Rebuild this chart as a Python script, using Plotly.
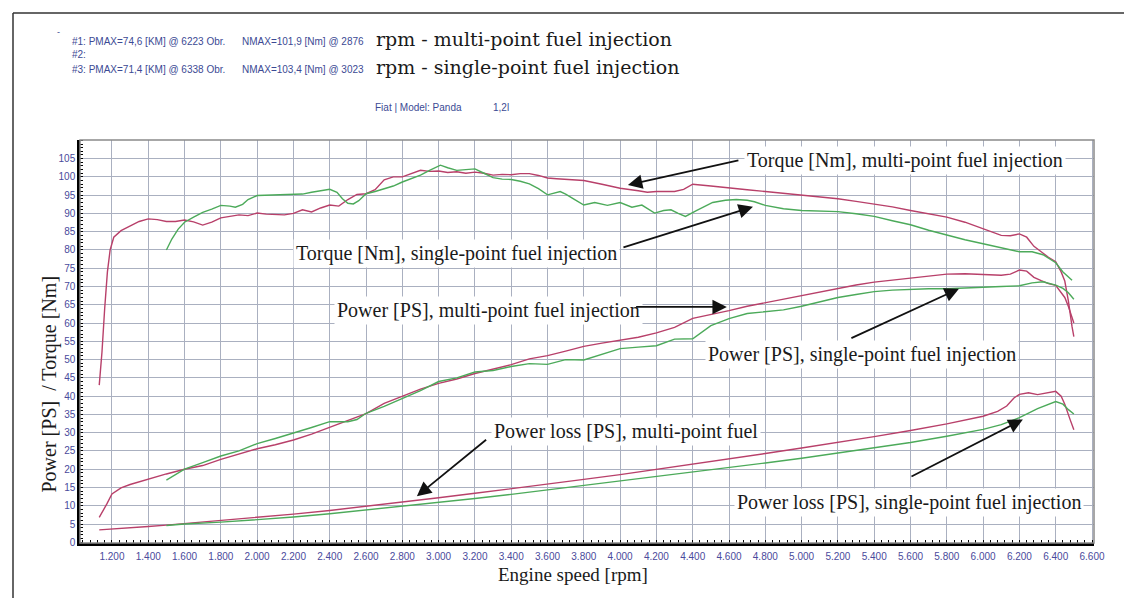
import plotly.graph_objects as go

# ---------------- data ----------------
tm_rpm = [1130, 1145, 1160, 1175, 1190, 1210, 1250, 1300, 1350, 1400, 1450, 1500, 1550, 1600, 1650, 1700, 1750, 1800, 1850, 1900, 1950, 2000, 2050, 2100, 2150, 2200, 2250, 2300, 2350, 2400, 2450, 2500, 2550, 2600, 2650, 2700, 2750, 2800, 2850, 2900, 2950, 3000, 3050, 3100, 3150, 3200, 3250, 3300, 3350, 3400, 3450, 3500, 3550, 3600, 3650, 3700, 3800, 3900, 3950, 4000, 4100, 4150, 4200, 4250, 4300, 4350, 4400, 4500, 4600, 4700, 4800, 4900, 5000, 5100, 5200, 5300, 5400, 5500, 5600, 5700, 5800, 5900, 6000, 6050, 6100, 6150, 6200, 6240, 6280, 6320, 6360, 6400, 6430, 6450, 6470, 6490, 6500]
tm_val = [43, 52, 64, 74, 80, 83.5, 85.3, 86.5, 87.8, 88.5, 88.3, 87.8, 87.8, 88.2, 87.7, 86.8, 87.6, 88.8, 89.2, 89.6, 89.4, 90.1, 89.8, 89.8, 89.6, 90.0, 91.0, 90.4, 91.5, 92.3, 92.0, 93.8, 95.2, 95.4, 96.5, 99.2, 100.0, 100.0, 101.0, 101.8, 101.5, 101.6, 101.2, 101.4, 101.0, 101.3, 101.0, 100.5, 100.7, 100.6, 100.9, 100.9, 100.4, 99.7, 99.5, 99.3, 99.0, 98.0, 97.4, 96.9, 96.2, 95.8, 96.0, 96.0, 96.0, 96.6, 98.0, 97.5, 96.9, 96.5, 96.0, 95.5, 94.9, 94.5, 94.0, 93.3, 92.6, 91.8, 90.8, 89.9, 89.0, 87.6, 85.8, 84.8, 84.0, 83.9, 84.4, 83.5, 81.0, 79.5, 78.0, 76.8, 74.0, 71.5, 66.0, 59.0, 56.3]

ts_rpm = [1500, 1530, 1565, 1600, 1650, 1700, 1750, 1800, 1850, 1880, 1920, 1950, 2000, 2100, 2200, 2250, 2300, 2350, 2400, 2440, 2470, 2500, 2530, 2560, 2600, 2650, 2710, 2750, 2800, 2850, 2900, 2950, 3010, 3050, 3100, 3150, 3200, 3250, 3300, 3350, 3400, 3450, 3500, 3550, 3600, 3670, 3700, 3750, 3800, 3860, 3930, 4000, 4065, 4120, 4190, 4240, 4280, 4320, 4360, 4420, 4470, 4510, 4580, 4640, 4700, 4740, 4800, 4900, 5000, 5100, 5200, 5300, 5400, 5500, 5600, 5700, 5800, 5900, 6000, 6100, 6200, 6270, 6330, 6400, 6440, 6490]
ts_val = [80.0, 83.0, 85.7, 87.6, 89.0, 90.3, 91.2, 92.2, 92.0, 91.7, 92.5, 93.8, 94.9, 95.0, 95.1, 95.3, 95.8, 96.3, 96.6, 95.8, 94.0, 92.8, 92.6, 93.5, 95.4, 96.0, 96.9, 97.5, 98.6, 99.5, 100.5, 101.8, 103.2, 102.5, 101.8, 102.0, 102.2, 101.0, 99.8, 99.4, 99.3, 98.8, 98.1, 96.8, 95.1, 96.0, 95.3, 93.8, 92.3, 93.0, 92.2, 93.0, 91.7, 92.3, 90.1, 90.8, 91.0, 90.0, 89.2, 90.8, 92.0, 93.0, 93.6, 93.8, 93.6, 93.2, 92.2, 91.3, 90.8, 90.6, 90.5, 89.9, 89.2, 88.0, 86.9, 85.4, 84.0, 82.8, 81.7, 80.6, 79.5, 79.5, 78.7, 76.5, 74.0, 71.7]

pm_rpm = [1130, 1150, 1172, 1200, 1250, 1300, 1400, 1500, 1600, 1700, 1800, 1900, 2000, 2100, 2200, 2300, 2400, 2500, 2600, 2700, 2800, 2900, 3000, 3100, 3200, 3300, 3400, 3500, 3600, 3700, 3800, 3900, 4000, 4100, 4200, 4300, 4400, 4500, 4600, 4700, 4800, 4900, 5000, 5100, 5200, 5300, 5400, 5500, 5600, 5700, 5800, 5900, 6000, 6100, 6150, 6200, 6240, 6280, 6320, 6360, 6400, 6430, 6450, 6470, 6490, 6500]
pm_val = [6.8, 8.5, 10.5, 13.2, 14.9, 15.8, 17.3, 18.7, 20.0, 21.0, 22.7, 24.2, 25.6, 26.7, 28.0, 29.6, 31.4, 33.2, 35.2, 38.0, 40.0, 41.9, 43.5, 44.7, 46.2, 47.3, 48.6, 50.2, 51.1, 52.3, 53.6, 54.5, 55.2, 56.1, 57.3, 58.8, 61.3, 62.3, 63.4, 64.6, 65.6, 66.6, 67.6, 68.6, 69.5, 70.4, 71.2, 71.8, 72.4, 73.0, 73.4, 73.5, 73.2, 73.1, 73.4, 74.5, 74.2, 72.5, 71.6, 70.8, 70.3, 68.5, 67.0, 64.5, 61.5, 60.0]

ps_rpm = [1500, 1550, 1600, 1700, 1800, 1900, 2000, 2100, 2200, 2300, 2400, 2500, 2550, 2600, 2700, 2800, 2900, 3000, 3100, 3200, 3300, 3400, 3500, 3600, 3700, 3800, 3900, 4000, 4100, 4200, 4300, 4400, 4500, 4600, 4700, 4800, 4900, 5000, 5100, 5200, 5300, 5400, 5500, 5600, 5700, 5800, 5900, 6000, 6100, 6200, 6270, 6330, 6400, 6440, 6470, 6500]
ps_val = [17.0, 18.5, 20.0, 21.8, 23.6, 25.0, 27.0, 28.4, 29.8, 31.4, 33.0, 33.0, 33.6, 35.3, 37.2, 39.3, 41.5, 44.0, 45.0, 46.6, 47.0, 48.1, 48.9, 48.7, 50.0, 49.9, 51.4, 53.0, 53.4, 53.8, 55.6, 55.7, 59.3, 61.2, 62.6, 63.0, 63.6, 64.6, 65.9, 67.0, 67.8, 68.6, 69.0, 69.3, 69.4, 69.4, 69.5, 69.8, 70.0, 70.2, 71.0, 71.3, 70.4, 69.5, 68.3, 66.5]

lm_rpm = [1130, 1200, 1300, 1400, 1500, 1600, 1800, 2000, 2200, 2400, 2600, 2800, 3000, 3200, 3400, 3600, 3800, 4000, 4200, 4400, 4600, 4800, 5000, 5200, 5400, 5600, 5800, 6000, 6080, 6130, 6170, 6200, 6250, 6300, 6350, 6400, 6430, 6450, 6480, 6500]
lm_val = [3.4, 3.6, 3.9, 4.3, 4.7, 5.1, 5.9, 6.8, 7.7, 8.7, 9.8, 11.0, 12.2, 13.4, 14.6, 15.9, 17.2, 18.5, 19.9, 21.3, 22.8, 24.3, 25.8, 27.3, 28.9, 30.6, 32.4, 34.5, 35.8, 37.3, 39.5, 40.5, 40.9, 40.4, 40.9, 41.3, 40.0, 37.8, 33.5, 30.8]

ls_rpm = [1500, 1600, 1800, 2000, 2200, 2400, 2600, 2800, 3000, 3200, 3400, 3600, 3800, 4000, 4200, 4400, 4600, 4800, 5000, 5200, 5400, 5600, 5800, 6000, 6100, 6200, 6300, 6400, 6440, 6470, 6500]
ls_val = [4.6, 5.0, 5.5, 6.1, 6.9, 7.8, 8.8, 9.8, 10.9, 12.0, 13.1, 14.3, 15.5, 16.7, 17.9, 19.1, 20.4, 21.7, 23.0, 24.4, 25.8, 27.3, 29.0, 30.9, 32.2, 34.1, 36.6, 38.5, 37.8, 36.3, 35.1]

x_ticks = list(range(1200, 6601, 200))
x_labels = ["{:,}".format(v).replace(",", ".") for v in x_ticks]
y_ticks = list(range(0, 106, 5))

# callouts: text, text anchor (rpm, value), arrow tail (rpm, value), arrow head (rpm, value)
callout_text = ["Torque [Nm], multi-point fuel injection",
                "Torque [Nm], single-point fuel injection",
                "Power [PS], multi-point fuel injection",
                "Power [PS], single-point fuel injection",
                "Power loss [PS], multi-point fuel",
                "Power loss [PS], single-point fuel injection"]
callout_pos = [(4680, 104.6), (2200, 79.0), (2425, 63.3), (4470, 51.4), (3290, 30.4), (4630, 10.8)]
arrow_tail = [(4660, 104.6), (4010, 80.6), (4080, 64.4), (5266, 55.7), (3270, 28.4), (5597, 17.8)]
arrow_head = [(4043, 97.8), (4732, 91.8), (4588, 64.4), (5867, 69.4), (2880, 12.6), (6219, 33.6)]

# ---------------- layout geometry ----------------
W, H = 1132, 598
PL, PR, PT, PB = 72, 1086, 132, 535


def px(x):
    return (x - PL) / (PR - PL)


def py(y):
    return (PB - y) / (PB - PT)


RED = "#b8406a"
GREEN = "#4caa5a"

fig = go.Figure()
series = [
    (tm_rpm, tm_val, RED), (ts_rpm, ts_val, GREEN),
    (pm_rpm, pm_val, RED), (ps_rpm, ps_val, GREEN),
    (lm_rpm, lm_val, RED), (ls_rpm, ls_val, GREEN),
]
for xs, ys, c in series:
    fig.add_trace(go.Scatter(x=xs, y=ys, mode="lines",
                             line=dict(color=c, width=1.4),
                             showlegend=False, hoverinfo="skip"))

TICKFONT = dict(family="Liberation Sans, Arial", size=10, color="#4a4a9c")
GRID = "#aab0c0"

fig.update_layout(
    width=W, height=H,
    margin=dict(l=PL, r=W - PR, t=PT, b=H - PB),
    paper_bgcolor="white", plot_bgcolor="white",
    xaxis=dict(range=[1024, 6611], tickvals=x_ticks, ticktext=x_labels,
               tickfont=TICKFONT, showgrid=True, gridcolor=GRID, gridwidth=1.4,
               showline=True, linecolor="black", linewidth=2.5, zeroline=False,
               ticks="", ticklen=0, ticklabelstandoff=2,
               minor=dict(dtick=40, ticks="inside", ticklen=3, tickcolor="black",
                          tickwidth=1, showgrid=False)),
    yaxis=dict(range=[-0.2, 110.1], tickvals=y_ticks,
               tickfont=TICKFONT, showgrid=True, gridcolor=GRID, gridwidth=1.4,
               showline=True, linecolor="black", linewidth=2.5, zeroline=False,
               ticks="", ticklen=0,
               minor=dict(dtick=1, ticks="inside", ticklen=3, tickcolor="black",
                          tickwidth=1, showgrid=False)),
    font=dict(family="Liberation Serif, Times New Roman", color="#1a1a1a"),
)

# plot border (top / right gray)
fig.add_shape(type="rect", xref="paper", yref="paper", x0=0, x1=1, y0=0, y1=1,
              line=dict(color="#8a8a8a", width=1.5), layer="above")
# outer frame
for x0, y0, x1, y1 in [(5, 5, 5, 598), (5, 5, 1127, 5), (1127, 5, 1127, 598)]:
    fig.add_shape(type="line", xref="paper", yref="paper",
                  x0=px(x0), x1=px(x1), y0=py(y0), y1=py(y1),
                  line=dict(color="#333333", width=1.5))

SERIF = "Liberation Serif, Times New Roman"
WIDESERIF = "DejaVu Serif, Liberation Serif"
SANS = "Liberation Sans, Arial"
BLUE = "#3c4a94"

# callouts
for t, (tx, ty) in zip(callout_text, callout_pos):
    fig.add_annotation(x=tx, y=ty, xref="x", yref="y", text=t, showarrow=False,
                       xanchor="left", yanchor="middle", bgcolor="white",
                       borderpad=2, font=dict(family=SERIF, size=20, color="#1a1a1a"))
for (ax_, ay_), (hx, hy) in zip(arrow_tail, arrow_head):
    fig.add_annotation(x=hx, y=hy, ax=ax_, ay=ay_, xref="x", yref="y",
                       axref="x", ayref="y", text="", showarrow=True,
                       arrowhead=2, arrowsize=1.6, arrowwidth=1.8,
                       arrowcolor="#111111", standoff=0, startstandoff=0)

# header texts
header = [
    ("-", 47, 24, SANS, 9, BLUE),
    ("#1: PMAX=74,6 [KM] @ 6223 Obr.", 62, 33, SANS, 10, BLUE),
    ("NMAX=101,9 [Nm] @ 2876", 232, 33, SANS, 10, BLUE),
    ("#2:", 62, 46, SANS, 10, BLUE),
    ("#3: PMAX=71,4 [KM] @ 6338 Obr.", 62, 61, SANS, 10, BLUE),
    ("NMAX=103,4 [Nm] @ 3023", 232, 61, SANS, 10, BLUE),
    ("Fiat | Model: Panda", 365, 100, SANS, 10, BLUE),
    ("1,2l", 483, 100, SANS, 10, BLUE),
]
for t, x, y, fam, sz, col in header:
    fig.add_annotation(x=px(x), y=py(y), xref="paper", yref="paper", text=t,
                       showarrow=False, xanchor="left", yanchor="middle",
                       font=dict(family=fam, size=sz, color=col))
for t, x, y in [("rpm - multi-point fuel injection", 366, 31),
                ("rpm - single-point fuel injection", 366, 59)]:
    fig.add_annotation(x=px(x), y=py(y), xref="paper", yref="paper", text=t,
                       showarrow=False, xanchor="left", yanchor="middle",
                       font=dict(family=WIDESERIF, size=19, color="#1a1a1a"))

# axis titles
fig.add_annotation(x=px(565), y=py(579), xref="paper", yref="paper",
                   text="Engine speed [rpm]", showarrow=False,
                   font=dict(family=SERIF, size=19, color="#1a1a1a"))
fig.add_annotation(x=px(27), y=py(376), xref="paper", yref="paper",
                   text="Power [PS]  / Torque [Nm]", showarrow=False, textangle=-90,
                   font=dict(family=SERIF, size=20, color="#1a1a1a"))

fig.write_html("out.html")
